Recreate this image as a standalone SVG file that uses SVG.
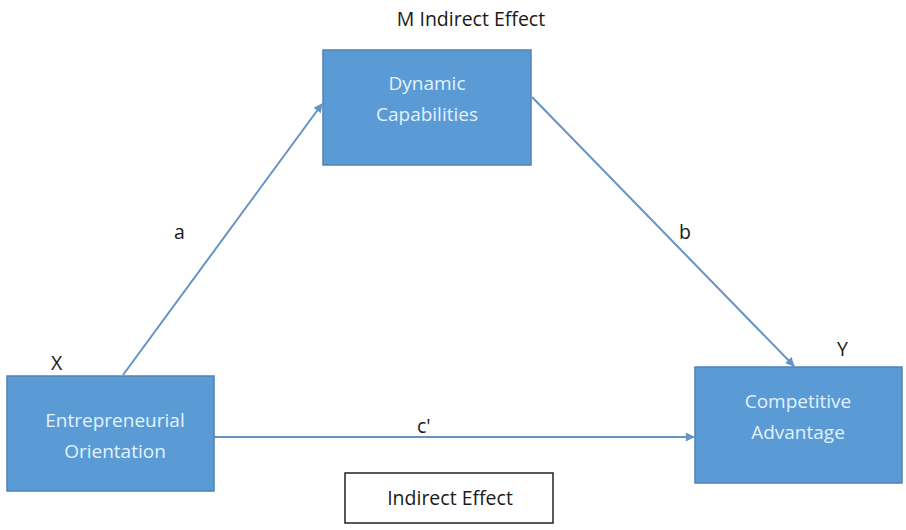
<svg xmlns="http://www.w3.org/2000/svg" width="906" height="530" viewBox="0 0 906 530">
  <style>
    .box { fill: #5b9bd5; stroke: #4f83b5; stroke-width: 1.5; }
    .boxtext { font-family: "Open Sans", "Noto Sans", sans-serif; font-size: 19px; fill: #e2f2ff; text-anchor: middle; }
    .label { font-family: "Open Sans", "Noto Sans", sans-serif; font-size: 19.5px; fill: #1a1a1a; }
    .edge { stroke: #6493c4; stroke-width: 2; fill: none; marker-end: url(#arrow); }
    .plain { fill: #ffffff; stroke: #222222; stroke-width: 1.5; }
  </style>
  <defs>
    <marker id="arrow" viewBox="0 0 10 10" refX="9" refY="5" markerWidth="11" markerHeight="9" markerUnits="userSpaceOnUse" orient="auto">
      <path d="M0,0 L10,5 L0,10 Z" fill="#6493c4"/>
    </marker>
  </defs>
  <rect width="906" height="530" fill="#ffffff"/>

  <g id="connectors">
    <line class="edge" x1="123" y1="375" x2="322" y2="104"/>
    <line class="edge" x1="532" y1="97" x2="794" y2="366"/>
    <line class="edge" x1="214" y1="437" x2="694" y2="437"/>
  </g>

  <g id="edge-labels">
    <text class="label" x="174" y="239">a</text>
    <text class="label" x="679" y="239">b</text>
    <text class="label" x="417" y="433">c'</text>
  </g>

  <g id="node-m">
    <rect class="box" x="323" y="50" width="208" height="115"/>
    <text class="boxtext" x="427" y="90">Dynamic</text>
    <text class="boxtext" x="427" y="121">Capabilities</text>
    <text class="label" x="471" y="26" text-anchor="middle">M Indirect Effect</text>
  </g>

  <g id="node-x">
    <rect class="box" x="7" y="376" width="207" height="115"/>
    <text class="boxtext" x="115" y="427">Entrepreneurial</text>
    <text class="boxtext" x="115" y="458">Orientation</text>
    <text class="label" x="51" y="370">X</text>
  </g>

  <g id="node-y">
    <rect class="box" x="695" y="367" width="207" height="116"/>
    <text class="boxtext" x="798" y="408">Competitive</text>
    <text class="boxtext" x="798" y="439">Advantage</text>
    <text class="label" x="837" y="356">Y</text>
  </g>

  <g id="indirect-effect">
    <rect class="plain" x="345" y="473" width="208" height="50"/>
    <text class="label" x="450" y="505" text-anchor="middle">Indirect Effect</text>
  </g>
</svg>
